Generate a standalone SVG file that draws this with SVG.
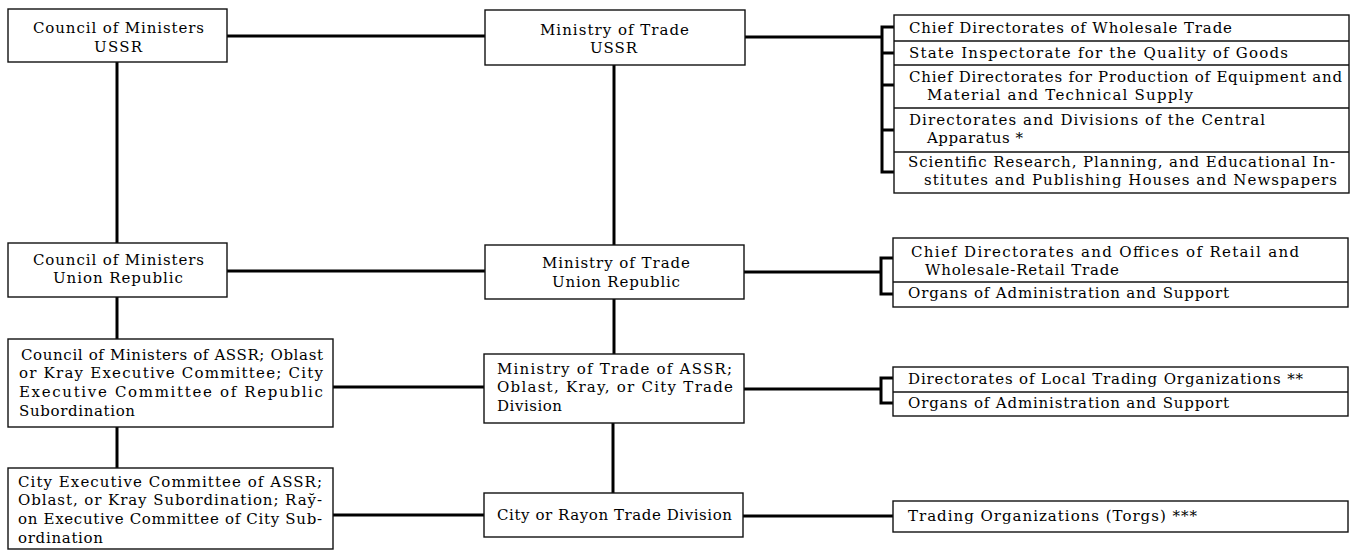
<svg xmlns="http://www.w3.org/2000/svg" width="1353" height="552" viewBox="0 0 1353 552">
  <style>
    .box { fill: #ffffff; stroke: #111111; stroke-width: 1.4; }
    .div { stroke: #111111; stroke-width: 1.4; fill: none; }
    .link { stroke: #000000; stroke-width: 3; fill: none; }
    .brace { stroke: #000000; stroke-width: 3; fill: none; stroke-linejoin: miter; }
    text { font-family: "DejaVu Serif", "Liberation Serif", serif; font-size: 15px; fill: #000000; }
  </style>
  <rect width="1353" height="552" fill="#ffffff"/>

  <!-- connectors between levels -->
  <g id="connectors">
    <line class="link" x1="227" y1="36" x2="485" y2="36"/>
    <line class="link" x1="745" y1="37" x2="882" y2="37"/>
    <line class="link" x1="117" y1="62" x2="117" y2="243"/>
    <line class="link" x1="614" y1="65" x2="614" y2="245"/>
    <line class="link" x1="227" y1="271" x2="485" y2="271"/>
    <line class="link" x1="744" y1="272" x2="881" y2="272"/>
    <line class="link" x1="117" y1="297" x2="117" y2="339"/>
    <line class="link" x1="614" y1="299" x2="614" y2="354"/>
    <line class="link" x1="333" y1="387" x2="484" y2="387"/>
    <line class="link" x1="744" y1="389" x2="881" y2="389"/>
    <line class="link" x1="117" y1="427" x2="117" y2="468"/>
    <line class="link" x1="613" y1="423" x2="613" y2="493"/>
    <line class="link" x1="333" y1="515" x2="484" y2="515"/>
    <line class="link" x1="743" y1="516" x2="893" y2="516"/>
    <!-- brackets fanning out to the subordinate bodies -->
    <path class="brace" d="M894 27 H882 V172 H894 M882 53 H894 M882 85 H894 M882 130 H894"/>
    <path class="brace" d="M893 258 H881 V294 H893"/>
    <path class="brace" d="M893 378 H881 V403 H893"/>
  </g>

  <g id="council-ussr">
    <rect class="box" x="8" y="9" width="219" height="53"/>
    <text x="33" y="33" textLength="171" lengthAdjust="spacing">Council of Ministers</text>
    <text x="94" y="52" textLength="48" lengthAdjust="spacing">USSR</text>
  </g>

  <g id="ministry-ussr">
    <rect class="box" x="485" y="10" width="260" height="55"/>
    <text x="540" y="35" textLength="149" lengthAdjust="spacing">Ministry of Trade</text>
    <text x="590" y="53" textLength="47" lengthAdjust="spacing">USSR</text>
  </g>

  <g id="ussr-subdivisions">
    <rect class="box" x="894" y="15" width="455" height="178"/>
    <path class="div" d="M894 41 H1349 M894 65 H1349 M894 108 H1349 M894 152 H1349"/>
    <text x="909" y="33" textLength="323" lengthAdjust="spacing">Chief Directorates of Wholesale Trade</text>
    <text x="909" y="58" textLength="379" lengthAdjust="spacing">State Inspectorate for the Quality of Goods</text>
    <text x="909" y="82" textLength="433" lengthAdjust="spacing">Chief Directorates for Production of Equipment and</text>
    <text x="927" y="100" textLength="266" lengthAdjust="spacing">Material and Technical Supply</text>
    <text x="909" y="125" textLength="356" lengthAdjust="spacing">Directorates and Divisions of the Central</text>
    <text x="927" y="143" textLength="96" lengthAdjust="spacing">Apparatus *</text>
    <text x="908" y="167" textLength="427" lengthAdjust="spacing">Scientific Research, Planning, and Educational In-</text>
    <text x="924" y="185" textLength="413" lengthAdjust="spacing">stitutes and Publishing Houses and Newspapers</text>
  </g>

  <g id="council-union-republic">
    <rect class="box" x="8" y="243" width="219" height="54"/>
    <text x="33" y="265" textLength="171" lengthAdjust="spacing">Council of Ministers</text>
    <text x="53" y="283" textLength="130" lengthAdjust="spacing">Union Republic</text>
  </g>

  <g id="ministry-union-republic">
    <rect class="box" x="485" y="245" width="259" height="54"/>
    <text x="542" y="268" textLength="148" lengthAdjust="spacing">Ministry of Trade</text>
    <text x="552" y="287" textLength="128" lengthAdjust="spacing">Union Republic</text>
  </g>

  <g id="union-republic-subdivisions">
    <rect class="box" x="893" y="238" width="455" height="69"/>
    <path class="div" d="M893 282 H1348"/>
    <text x="911" y="257" textLength="388" lengthAdjust="spacing">Chief Directorates and Offices of Retail and</text>
    <text x="925" y="275" textLength="194" lengthAdjust="spacing">Wholesale-Retail Trade</text>
    <text x="908" y="298" textLength="321" lengthAdjust="spacing">Organs of Administration and Support</text>
  </g>

  <g id="council-assr">
    <rect class="box" x="8" y="339" width="325" height="88"/>
    <text x="21" y="360" textLength="302" lengthAdjust="spacing">Council of Ministers of ASSR; Oblast</text>
    <text x="19" y="378" textLength="304" lengthAdjust="spacing">or Kray Executive Committee; City</text>
    <text x="19" y="397" textLength="304" lengthAdjust="spacing">Executive Committee of Republic</text>
    <text x="19" y="416" textLength="116" lengthAdjust="spacing">Subordination</text>
  </g>

  <g id="ministry-assr">
    <rect class="box" x="484" y="354" width="260" height="69"/>
    <text x="497" y="374" textLength="235" lengthAdjust="spacing">Ministry of Trade of ASSR;</text>
    <text x="497" y="392" textLength="236" lengthAdjust="spacing">Oblast, Kray, or City Trade</text>
    <text x="497" y="411" textLength="65" lengthAdjust="spacing">Division</text>
  </g>

  <g id="assr-subdivisions">
    <rect class="box" x="893" y="367" width="455" height="49"/>
    <path class="div" d="M893 392 H1348"/>
    <text x="908" y="384" textLength="395" lengthAdjust="spacing">Directorates of Local Trading Organizations **</text>
    <text x="908" y="408" textLength="321" lengthAdjust="spacing">Organs of Administration and Support</text>
  </g>

  <g id="city-executive">
    <rect class="box" x="8" y="468" width="325" height="81"/>
    <text x="18" y="487" textLength="304" lengthAdjust="spacing">City Executive Committee of ASSR;</text>
    <text x="18" y="505" textLength="304" lengthAdjust="spacing">Oblast, or Kray Subordination; Ray̆-</text>
    <text x="18" y="524" textLength="304" lengthAdjust="spacing">on Executive Committee of City Sub-</text>
    <text x="18" y="543" textLength="85" lengthAdjust="spacing">ordination</text>
  </g>

  <g id="city-rayon-division">
    <rect class="box" x="484" y="493" width="259" height="44"/>
    <text x="497" y="520" textLength="235" lengthAdjust="spacing">City or Rayon Trade Division</text>
  </g>

  <g id="trading-organizations">
    <rect class="box" x="893" y="501" width="455" height="31"/>
    <text x="908" y="521" textLength="289" lengthAdjust="spacing">Trading Organizations (Torgs) ***</text>
  </g>
</svg>
